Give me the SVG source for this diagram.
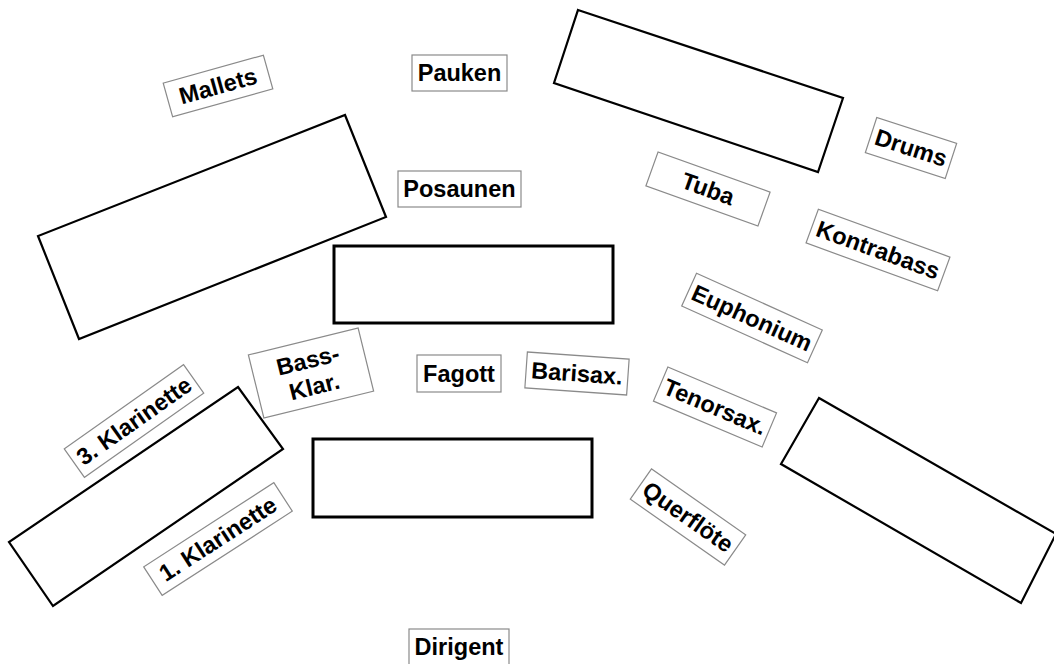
<svg xmlns="http://www.w3.org/2000/svg" width="1054" height="664" viewBox="0 0 1054 664">
<style>
.area{fill:#fff;stroke:#000;stroke-width:2.2;stroke-linejoin:miter}
.mid{fill:#fff;stroke:#000;stroke-width:3}
.lb rect{fill:#fff;stroke:#8a8a8a;stroke-width:1.2}
.lb text{font-family:"Liberation Sans",Arial,sans-serif;font-weight:bold;font-size:23.5px;fill:#000;text-anchor:middle}
</style>
<rect width="1054" height="664" fill="#fff"/>
<g id="areas">
<polygon id="area-top-right" class="area" points="578,10 843,98 818,172 554,83"/>
<polygon id="area-left" class="area" points="345,115 386,217 79,339 38,236"/>
<rect id="area-center-upper" class="mid" x="334" y="246" width="279" height="77"/>
<rect id="area-center-lower" class="mid" x="313" y="439" width="279" height="78"/>
<polygon id="area-left-lower" class="area" points="238,387 283,449 53,606 9,542"/>
<polygon id="area-right-lower" class="area" points="819,398 1056,534 1021,603 781,464"/>
</g>
<g id="connectors"></g>
<g id="mallets" class="lb" transform="translate(218,86) rotate(-15.6)"><rect x="-52" y="-17.5" width="104" height="35"/><text y="8">Mallets</text></g>
<g id="pauken" class="lb" transform="translate(459.5,73)"><rect x="-47.5" y="-18" width="95" height="36"/><text y="8">Pauken</text></g>
<g id="posaunen" class="lb" transform="translate(459.5,189)"><rect x="-61.5" y="-18" width="123" height="36"/><text y="8">Posaunen</text></g>
<g id="drums" class="lb" transform="translate(911,148) rotate(18)"><rect x="-42" y="-18.5" width="84" height="37"/><text y="8">Drums</text></g>
<g id="tuba" class="lb" transform="translate(708,189) rotate(19.7)"><rect x="-59.5" y="-18" width="119" height="36"/><text y="8">Tuba</text></g>
<g id="kontrabass" class="lb" transform="translate(878,250) rotate(20)"><rect x="-70" y="-18" width="140" height="36"/><text y="8">Kontrabass</text></g>
<g id="euphonium" class="lb" transform="translate(752,318) rotate(24.3)"><rect x="-69" y="-18" width="138" height="36"/><text y="8">Euphonium</text></g>
<g id="bassklar" class="lb" transform="translate(311,373) rotate(-13.8)"><rect x="-56.5" y="-32.5" width="113" height="65"/><text y="-5">Bass-</text><text y="22">Klar.</text></g>
<g id="fagott" class="lb" transform="translate(459,373.5)"><rect x="-42" y="-18.5" width="84" height="37"/><text y="8">Fagott</text></g>
<g id="barisax" class="lb" transform="translate(577,373.5) rotate(4)"><rect x="-51" y="-18" width="102" height="36"/><text y="8">Barisax.</text></g>
<g id="klarinette3" class="lb" transform="translate(134,421) rotate(-35.2)"><rect x="-73" y="-17.5" width="146" height="35"/><text y="8">3. Klarinette</text></g>
<g id="klarinette1" class="lb" transform="translate(218,539) rotate(-32.9)"><rect x="-77.5" y="-17" width="155" height="34"/><text y="8">1. Klarinette</text></g>
<g id="tenorsax" class="lb" transform="translate(715,407) rotate(22.9)"><rect x="-59" y="-18.5" width="118" height="37"/><text y="8">Tenorsax.</text></g>
<g id="querfloete" class="lb" transform="translate(688,517) rotate(35)"><rect x="-57.5" y="-18.5" width="115" height="37"/><text y="8">Querflöte</text></g>
<g id="dirigent" class="lb" transform="translate(459,647)"><rect x="-50" y="-18" width="100" height="36"/><text y="8">Dirigent</text></g>
</svg>
